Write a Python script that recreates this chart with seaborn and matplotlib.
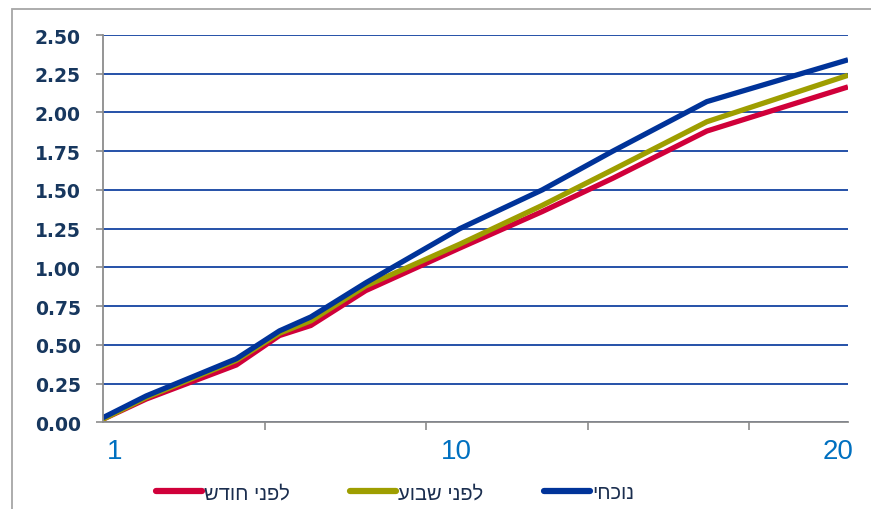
import numpy as np
import pandas as pd
import matplotlib
matplotlib.use("Agg")
import matplotlib.pyplot as plt
import matplotlib.transforms as mtransforms
from matplotlib.lines import Line2D
from matplotlib.patches import Rectangle
from matplotlib.ticker import FixedLocator, FormatStrFormatter
import seaborn as sns

# Yield curve: maturity in years and yield (%) for three dates
maturity = [1.0, 2.1, 4.4, 5.5, 6.3, 7.7, 10.1, 12.2, 14.0, 16.4, 20.0]
current = [0.03, 0.17, 0.41, 0.59, 0.68, 0.90, 1.25, 1.50, 1.75, 2.07, 2.34]
week_ago = [0.02, 0.16, 0.40, 0.575, 0.655, 0.88, 1.15, 1.40, 1.63, 1.94, 2.24]
month_ago = [0.02, 0.15, 0.37, 0.56, 0.625, 0.85, 1.125, 1.36, 1.575, 1.88, 2.165]

series_names = ["לפני חודש", "לפני שבוע", "נוכחי"]
series_colors = ["#D0003A", "#9E9E00", "#003399"]
x_tick_values = [1, 10, 20]
x_tick_labels = ["1", "10", "20"]
y_ticks = [0.0, 0.25, 0.5, 0.75, 1.0, 1.25, 1.5, 1.75, 2.0, 2.25, 2.5]

df = pd.DataFrame({
    "maturity": maturity * 3,
    "yield": month_ago + week_ago + current,
    "series": [series_names[0]] * len(maturity)
    + [series_names[1]] * len(maturity)
    + [series_names[2]] * len(maturity),
})


def visual(s):
    # matplotlib lays glyphs out left to right, so Hebrew is reversed for display
    return s[::-1]


sns.set_theme(style="white")
plt.rcParams["font.family"] = ["Liberation Sans", "DejaVu Sans"]

W, H = 871, 510
fig = plt.figure(figsize=(W / 100, H / 100), dpi=100)
fig.patch.set_facecolor("white")

# outer chart frame (left and top edges visible)
fig.patches.append(Rectangle((12 / W, -0.1), 1.2, 1.1 - 10 / H + 0.0,
                             transform=fig.transFigure, fill=False,
                             edgecolor="#A6A6A6", linewidth=1.3))

ax = fig.add_axes([103 / W, (H - 423.3) / H, 745 / W, (423.3 - 36) / H])
ax.set_facecolor("white")

sns.lineplot(data=df, x="maturity", y="yield", hue="series",
             hue_order=series_names, palette=series_colors,
             linewidth=3.8, ax=ax, legend=False, sort=False)
for ln in ax.lines:
    ln.set_solid_joinstyle("miter")
    ln.set_solid_capstyle("butt")
    ln.set_zorder(3)

ax.set_xlim(1, 20)
ax.set_ylim(0, 2.5)
ax.set_xlabel("")
ax.set_ylabel("")

# horizontal gridlines
ax.set_yticks(y_ticks)
ax.yaxis.grid(True, color="#003399", linewidth=1.2)
ax.xaxis.grid(False)
ax.set_axisbelow(True)

for side in ["top", "right"]:
    ax.spines[side].set_visible(False)
for side in ["left", "bottom"]:
    ax.spines[side].set_visible(True)
    ax.spines[side].set_color("#8C8C8C")
    ax.spines[side].set_linewidth(1.3)
    ax.spines[side].set_zorder(4)

ax.yaxis.set_major_formatter(FormatStrFormatter("%.2f"))
ax.tick_params(axis="y", which="major", direction="out", length=5,
               width=1.2, color="#8C8C8C", pad=11, left=True)
for lab in ax.get_yticklabels():
    lab.set_fontfamily(["DejaVu Sans"])
    lab.set_fontweight("bold")
    lab.set_fontsize(13.5)
    lab.set_color("#17375E")

# bottom axis: evenly spaced tick marks, labels at 1, 10 and 20
ax.xaxis.set_minor_locator(FixedLocator(list(np.arange(1, 20, 4.12))))
ax.set_xticks(x_tick_values)
ax.set_xticklabels(x_tick_labels)
ax.tick_params(axis="x", which="minor", direction="out", length=5.5,
               width=1.2, color="#8C8C8C", bottom=True)
ax.tick_params(axis="x", which="major", length=0, pad=11, bottom=True)
shifts = [12, 0, -10]
for lab, dx in zip(ax.get_xticklabels(), shifts):
    lab.set_fontsize(20)
    lab.set_color("#0070C0")
    lab.set_transform(lab.get_transform()
                      + mtransforms.ScaledTranslation(dx / 100, 0, fig.dpi_scale_trans))

handles = [Line2D([0], [0], color=c, linewidth=4.5, solid_capstyle="round")
           for c in series_colors]
leg = fig.legend(handles, [visual(s) for s in series_names],
                 loc="center", bbox_to_anchor=(395 / W, (H - 494) / H),
                 ncol=3, frameon=False, fontsize=14.5, handlelength=2.3,
                 handletextpad=0.1, columnspacing=3.0, borderpad=0,
                 borderaxespad=0)
for t in leg.get_texts():
    t.set_color("#1B2E4F")

fig.savefig("out.png", dpi=100, facecolor="white")
